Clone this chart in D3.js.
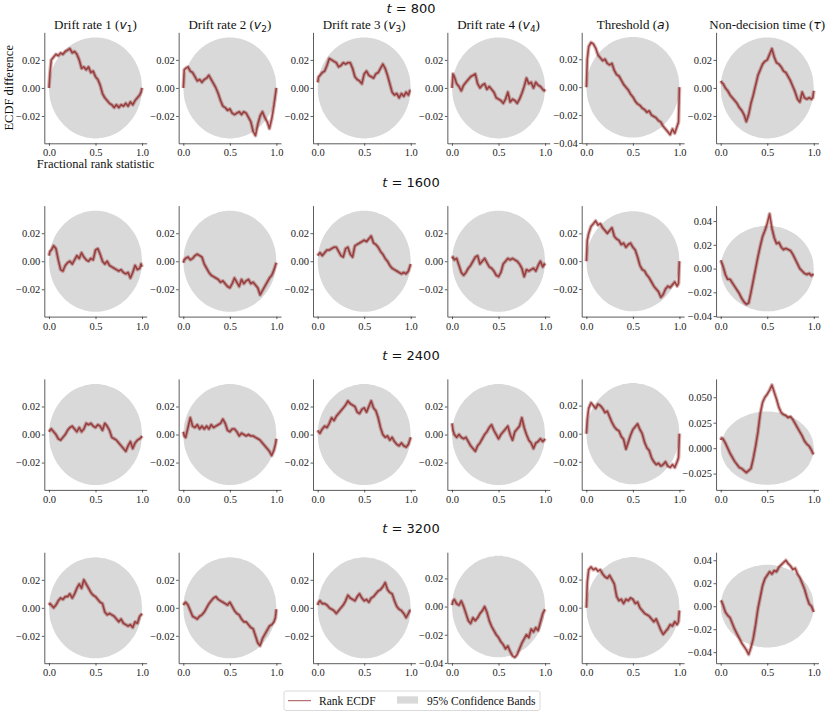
<!DOCTYPE html>
<html><head><meta charset="utf-8">
<script src="https://cdn.jsdelivr.net/npm/d3@7"></script>
<style>body{margin:0;background:#fff}svg{display:block}</style>
</head><body>
<svg id="c" width="830" height="715"></svg>
<script>
// ---------- data ----------
const paramLabels = ["Drift rate 1", "Drift rate 2", "Drift rate 3", "Drift rate 4", "Threshold", "Non-decision time"];
const paramSymbols = ["v", "v", "v", "v", "a", "τ"];
const paramSubscripts = ["1", "2", "3", "4", "", ""];
const timeSteps = [800, 1600, 2400, 3200];

const rankGrid = [0, 0.01, 0.025, 0.05, 0.075, 0.1, 0.125, 0.15, 0.175, 0.2, 0.225, 0.25, 0.275, 0.3, 0.325, 0.35, 0.375, 0.4, 0.425, 0.45, 0.475, 0.5, 0.525, 0.55, 0.575, 0.6, 0.625, 0.65, 0.675, 0.7, 0.725, 0.75, 0.775, 0.8, 0.825, 0.85, 0.875, 0.9, 0.925, 0.95, 0.975, 0.99, 1.0];

// half-width of the 95% simultaneous confidence band
const bandHalfWidth = [0, 0.0072, 0.0112, 0.0157, 0.019, 0.0216, 0.0238, 0.0257, 0.0274, 0.0288, 0.0301, 0.0312, 0.0321, 0.033, 0.0337, 0.0343, 0.0349, 0.0353, 0.0356, 0.0358, 0.036, 0.036, 0.036, 0.0358, 0.0356, 0.0353, 0.0349, 0.0343, 0.0337, 0.033, 0.0321, 0.0312, 0.0301, 0.0288, 0.0274, 0.0257, 0.0238, 0.0216, 0.019, 0.0157, 0.0112, 0.0072, 0];

const ecdf800 = [
  [0.000, 0.010, 0.020, 0.022, 0.024, 0.023, 0.025, 0.024, 0.026, 0.027, 0.028, 0.025, 0.026, 0.024, 0.020, 0.014, 0.015, 0.013, 0.015, 0.011, 0.012, 0.008, 0.006, 0.002, -0.004, -0.007, -0.009, -0.011, -0.012, -0.014, -0.012, -0.014, -0.012, -0.013, -0.011, -0.013, -0.010, -0.012, -0.009, -0.007, -0.005, -0.003, 0.000],
  [0.000, 0.013, 0.014, 0.015, 0.012, 0.011, 0.008, 0.005, 0.006, 0.004, 0.006, 0.007, 0.009, 0.006, 0.003, 0.000, -0.004, -0.009, -0.013, -0.014, -0.016, -0.015, -0.018, -0.019, -0.018, -0.017, -0.019, -0.017, -0.018, -0.021, -0.024, -0.031, -0.034, -0.026, -0.020, -0.017, -0.021, -0.024, -0.029, -0.022, -0.012, -0.005, 0.000],
  [0.004, 0.008, 0.009, 0.011, 0.012, 0.016, 0.021, 0.020, 0.019, 0.018, 0.015, 0.016, 0.018, 0.017, 0.018, 0.018, 0.014, 0.008, 0.006, 0.005, 0.003, 0.010, 0.012, 0.009, 0.008, 0.007, 0.010, 0.011, 0.014, 0.017, 0.014, 0.009, 0.003, -0.003, -0.005, -0.004, -0.007, -0.004, -0.006, -0.003, -0.005, -0.002, -0.002],
  [0.000, 0.010, 0.008, 0.003, 0.001, -0.002, 0.002, 0.004, 0.006, 0.008, 0.009, 0.010, 0.003, 0.000, 0.002, 0.003, -0.001, 0.001, -0.001, -0.003, -0.007, -0.008, -0.009, -0.011, -0.008, -0.003, -0.010, -0.008, -0.009, -0.011, -0.008, -0.004, 0.001, 0.007, 0.003, 0.004, 0.000, 0.004, 0.002, 0.001, -0.001, -0.002, -0.001],
  [0.000, 0.020, 0.029, 0.032, 0.031, 0.028, 0.023, 0.021, 0.019, 0.020, 0.017, 0.016, 0.017, 0.012, 0.009, 0.008, 0.005, 0.002, 0.000, -0.002, -0.005, -0.007, -0.010, -0.012, -0.013, -0.015, -0.016, -0.018, -0.017, -0.020, -0.021, -0.022, -0.024, -0.025, -0.028, -0.030, -0.032, -0.034, -0.030, -0.033, -0.028, -0.025, 0.000],
  [0.005, 0.004, 0.003, 0.000, -0.002, -0.005, -0.007, -0.009, -0.011, -0.014, -0.016, -0.019, -0.024, -0.019, -0.011, -0.005, 0.002, 0.009, 0.013, 0.017, 0.019, 0.020, 0.024, 0.028, 0.022, 0.018, 0.017, 0.015, 0.012, 0.011, 0.008, 0.005, 0.001, -0.003, -0.008, -0.010, -0.003, -0.007, -0.008, -0.007, -0.008, -0.007, -0.002]
];
const ecdf1600 = [
  [0.004, 0.007, 0.008, 0.011, 0.009, 0.001, -0.006, -0.007, -0.003, -0.001, 0.000, -0.002, 0.001, 0.004, 0.002, 0.006, 0.003, 0.001, 0.000, 0.002, 0.001, 0.008, 0.009, 0.005, 0.000, -0.002, 0.000, -0.003, -0.004, -0.005, -0.006, -0.007, -0.006, -0.008, -0.009, -0.008, -0.012, -0.008, -0.003, -0.006, -0.005, -0.002, -0.004],
  [-0.001, 0.001, 0.002, 0.003, 0.001, 0.002, 0.004, 0.005, 0.004, 0.003, -0.002, -0.005, -0.008, -0.010, -0.011, -0.012, -0.013, -0.015, -0.014, -0.016, -0.018, -0.019, -0.016, -0.012, -0.015, -0.018, -0.013, -0.016, -0.014, -0.013, -0.016, -0.015, -0.017, -0.019, -0.024, -0.021, -0.018, -0.015, -0.012, -0.010, -0.006, -0.003, -0.001],
  [0.004, 0.005, 0.006, 0.004, 0.006, 0.008, 0.008, 0.009, 0.010, 0.010, 0.007, 0.004, 0.003, 0.009, 0.010, 0.005, 0.003, 0.011, 0.012, 0.013, 0.014, 0.015, 0.014, 0.016, 0.018, 0.013, 0.012, 0.010, 0.007, 0.005, 0.002, 0.000, -0.003, -0.005, -0.006, -0.007, -0.008, -0.009, -0.008, -0.009, -0.007, -0.004, -0.002],
  [0.002, 0.003, 0.001, 0.002, -0.003, -0.008, -0.010, -0.008, -0.005, -0.003, 0.000, 0.003, 0.004, -0.002, 0.000, 0.002, -0.001, -0.004, -0.005, -0.007, -0.010, -0.011, -0.008, -0.002, 0.000, 0.002, 0.001, 0.002, 0.001, 0.000, -0.002, -0.005, -0.011, -0.006, -0.007, -0.006, -0.005, -0.007, -0.003, 0.000, -0.004, -0.002, -0.003],
  [0.000, 0.015, 0.020, 0.025, 0.027, 0.029, 0.026, 0.027, 0.024, 0.022, 0.020, 0.022, 0.024, 0.018, 0.016, 0.015, 0.012, 0.013, 0.010, 0.012, 0.013, 0.010, 0.008, 0.003, -0.003, -0.006, -0.007, -0.010, -0.012, -0.015, -0.018, -0.020, -0.022, -0.026, -0.024, -0.020, -0.018, -0.019, -0.017, -0.015, -0.018, -0.016, 0.000],
  [0.007, 0.005, 0.002, -0.005, -0.009, -0.009, -0.012, -0.015, -0.018, -0.021, -0.025, -0.028, -0.030, -0.029, -0.020, -0.010, 0.000, 0.010, 0.019, 0.027, 0.032, 0.038, 0.046, 0.034, 0.026, 0.021, 0.022, 0.018, 0.016, 0.017, 0.016, 0.015, 0.012, 0.008, 0.004, 0.000, -0.002, -0.004, -0.005, -0.004, -0.006, -0.005, -0.005]
];
const ecdf2400 = [
  [0.002, 0.003, 0.004, 0.002, 0.000, -0.003, -0.004, -0.002, 0.000, 0.003, 0.005, 0.006, 0.004, 0.002, 0.005, 0.002, 0.004, 0.008, 0.007, 0.008, 0.006, 0.005, 0.007, 0.006, 0.003, 0.008, 0.006, 0.003, -0.002, -0.003, -0.004, -0.006, -0.008, -0.010, -0.012, -0.008, -0.005, -0.010, -0.006, -0.004, -0.003, -0.002, -0.001],
  [0.002, -0.001, -0.002, 0.005, 0.012, 0.006, 0.005, 0.007, 0.004, 0.006, 0.004, 0.006, 0.004, 0.007, 0.005, 0.006, 0.007, 0.008, 0.011, 0.008, 0.003, 0.002, 0.004, 0.004, 0.002, -0.001, 0.001, 0.000, -0.001, 0.000, -0.001, -0.001, -0.002, -0.003, -0.004, -0.006, -0.008, -0.010, -0.012, -0.015, -0.011, -0.007, -0.003],
  [0.003, 0.002, 0.001, 0.004, 0.006, 0.005, 0.008, 0.012, 0.010, 0.013, 0.015, 0.017, 0.019, 0.021, 0.024, 0.022, 0.021, 0.020, 0.016, 0.015, 0.018, 0.019, 0.016, 0.020, 0.024, 0.019, 0.017, 0.012, 0.005, 0.000, -0.002, -0.001, -0.004, -0.002, -0.005, -0.007, -0.008, -0.006, -0.008, -0.009, -0.007, -0.004, -0.002],
  [0.008, 0.003, 0.000, -0.002, 0.000, -0.002, -0.003, -0.002, -0.005, -0.008, -0.010, -0.012, -0.008, -0.006, -0.003, 0.000, 0.002, 0.005, 0.007, 0.003, 0.000, -0.003, 0.000, 0.002, 0.004, 0.006, 0.000, -0.004, 0.002, 0.004, 0.006, 0.012, 0.005, 0.000, -0.004, -0.006, -0.010, -0.006, -0.005, -0.003, -0.005, -0.004, -0.003],
  [0.000, 0.010, 0.018, 0.022, 0.020, 0.018, 0.021, 0.020, 0.018, 0.015, 0.016, 0.012, 0.008, 0.005, 0.003, 0.002, -0.002, -0.004, -0.011, -0.006, -0.001, 0.003, 0.005, 0.007, 0.003, 0.000, -0.006, -0.010, -0.012, -0.017, -0.020, -0.022, -0.021, -0.023, -0.022, -0.020, -0.023, -0.024, -0.022, -0.024, -0.020, -0.017, 0.000],
  [0.008, 0.010, 0.009, 0.005, 0.000, -0.005, -0.009, -0.013, -0.016, -0.019, -0.020, -0.022, -0.024, -0.022, -0.020, -0.010, 0.002, 0.016, 0.034, 0.045, 0.050, 0.053, 0.057, 0.062, 0.055, 0.048, 0.040, 0.035, 0.033, 0.032, 0.030, 0.031, 0.028, 0.024, 0.020, 0.016, 0.012, 0.007, 0.004, 0.002, -0.002, -0.005, -0.006]
];
const ecdf3200 = [
  [0.002, 0.003, 0.002, 0.000, 0.002, 0.005, 0.007, 0.006, 0.008, 0.008, 0.010, 0.007, 0.010, 0.014, 0.017, 0.014, 0.020, 0.017, 0.014, 0.011, 0.009, 0.008, 0.006, 0.004, 0.003, -0.003, -0.005, -0.004, -0.005, -0.006, -0.008, -0.010, -0.008, -0.011, -0.012, -0.013, -0.012, -0.014, -0.010, -0.011, -0.006, -0.005, -0.004],
  [0.002, 0.003, 0.004, 0.002, -0.002, -0.006, -0.007, -0.008, -0.006, -0.005, -0.003, 0.000, 0.003, 0.005, 0.007, 0.008, 0.006, 0.005, 0.004, 0.003, 0.002, 0.004, 0.001, -0.002, -0.004, -0.005, -0.008, -0.010, -0.010, -0.012, -0.014, -0.015, -0.020, -0.025, -0.027, -0.022, -0.019, -0.016, -0.013, -0.012, -0.010, -0.007, -0.001],
  [0.002, 0.004, 0.005, 0.003, 0.003, 0.002, 0.000, -0.001, -0.002, -0.004, -0.002, 0.000, 0.002, 0.005, 0.009, 0.007, 0.006, 0.005, 0.008, 0.010, 0.007, 0.005, 0.006, 0.004, 0.007, 0.008, 0.010, 0.012, 0.013, 0.015, 0.018, 0.013, 0.011, 0.010, 0.005, 0.001, -0.001, -0.002, -0.004, -0.007, -0.004, -0.002, -0.002],
  [0.001, 0.004, 0.005, 0.002, 0.001, 0.004, 0.000, -0.005, -0.010, -0.012, -0.008, -0.010, -0.008, -0.005, -0.003, 0.000, -0.004, -0.010, -0.014, -0.017, -0.020, -0.022, -0.025, -0.027, -0.030, -0.028, -0.032, -0.035, -0.036, -0.034, -0.030, -0.026, -0.023, -0.020, -0.022, -0.016, -0.018, -0.015, -0.017, -0.011, -0.005, -0.003, -0.002],
  [0.000, 0.018, 0.027, 0.029, 0.027, 0.028, 0.026, 0.027, 0.024, 0.022, 0.021, 0.023, 0.020, 0.017, 0.008, 0.005, 0.006, 0.003, 0.006, 0.005, 0.007, 0.006, 0.003, 0.004, 0.000, -0.002, -0.004, -0.005, -0.006, -0.008, -0.010, -0.008, -0.012, -0.016, -0.019, -0.017, -0.015, -0.012, -0.013, -0.010, -0.012, -0.010, -0.002],
  [0.005, 0.004, 0.001, -0.005, -0.008, -0.010, -0.015, -0.020, -0.024, -0.028, -0.032, -0.035, -0.038, -0.042, -0.036, -0.028, -0.016, -0.002, 0.008, 0.018, 0.024, 0.027, 0.030, 0.028, 0.031, 0.030, 0.034, 0.036, 0.038, 0.040, 0.037, 0.035, 0.032, 0.033, 0.028, 0.025, 0.020, 0.015, 0.008, 0.002, 0.000, -0.003, -0.005]
];

const yLim800  = [[-0.0395, 0.0397], [-0.0395, 0.0397], [-0.0395, 0.0397], [-0.0395, 0.0397], [-0.0402, 0.0393], [-0.0395, 0.0397]];
const yLim1600 = [[-0.0395, 0.0397], [-0.0395, 0.0397], [-0.0395, 0.0397], [-0.0395, 0.0397], [-0.0399, 0.0400], [-0.0404, 0.0530]];
const yLim2400 = [[-0.0395, 0.0397], [-0.0395, 0.0397], [-0.0395, 0.0397], [-0.0395, 0.0397], [-0.0400, 0.0390], [-0.0410, 0.0680]];
const yLim3200 = [[-0.0395, 0.0397], [-0.0395, 0.0397], [-0.0395, 0.0397], [-0.0402, 0.0386], [-0.0395, 0.0395], [-0.0496, 0.0470]];
const ticksStd = [-0.02, 0, 0.02];
const ticksLow = [-0.04, -0.02, 0, 0.02];
const ticksWide = [-0.04, -0.02, 0, 0.02, 0.04];
const ticksQuarter = [-0.025, 0, 0.025, 0.05];
const yTicks800  = [ticksStd, ticksStd, ticksStd, ticksStd, ticksLow, ticksStd];
const yTicks1600 = [ticksStd, ticksStd, ticksStd, ticksStd, ticksStd, ticksWide];
const yTicks2400 = [ticksStd, ticksStd, ticksStd, ticksStd, ticksStd, ticksQuarter];
const yTicks3200 = [ticksStd, ticksStd, ticksStd, ticksLow, ticksStd, ticksWide];
const xTicks = [0, 0.5, 1];
const legendLabels = ["Rank ECDF", "95% Confidence Bands"];

// ---------- drawing ----------
const svg = d3.select("#c");
const serif = "'Liberation Serif', 'Times New Roman', serif";
const mathFont = "'DejaVu Sans', sans-serif";
const lineColor = "#8f2727";
const bandColor = "#d9d9d9";
const X0 = 44.3, DX = 134.35, AW = 102.4, Y0 = 32.3, DY = 173.3, AH = 111;

const rows = [ecdf800, ecdf1600, ecdf2400, ecdf3200];
const lims = [yLim800, yLim1600, yLim2400, yLim3200];
const ticks = [yTicks800, yTicks1600, yTicks2400, yTicks3200];

const x = d3.scaleLinear().domain([-0.05, 1.05]).range([0, AW]);

function styleAxis(g) {
  g.select(".domain").attr("stroke", "#333").attr("stroke-width", 0.8);
  g.selectAll(".tick line").attr("stroke", "#333").attr("stroke-width", 0.8);
  g.selectAll(".tick text").attr("fill", "#222").attr("font-family", serif).attr("font-size", 10.5);
}

rows.forEach((rowData, r) => {
  const top = Y0 + r * DY;
  const rt = svg.append("text")
    .attr("x", 411).attr("y", top - 19)
    .attr("text-anchor", "middle")
    .attr("font-family", mathFont).attr("font-size", 13).attr("fill", "#111");
  rt.append("tspan").attr("font-style", "italic").text("t");
  rt.append("tspan").text(" = " + timeSteps[r]);

  rowData.forEach((vals, c) => {
    const g = svg.append("g").attr("transform", `translate(${X0 + c * DX},${top})`);
    const y = d3.scaleLinear().domain(lims[r][c]).range([AH, 0]);
    const band = d3.zip(rankGrid, bandHalfWidth);
    const pts = d3.zip(rankGrid, vals);

    g.append("path")
      .attr("d", d3.area().curve(d3.curveCatmullRom)
        .x(d => x(d[0])).y0(d => y(-d[1])).y1(d => y(d[1]))(band))
      .attr("fill", bandColor);

    const line = d3.line().x(d => x(d[0])).y(d => y(d[1]));
    g.append("path").attr("d", line(pts)).attr("fill", "none")
      .attr("stroke", lineColor).attr("stroke-opacity", 0.35).attr("stroke-width", 3.8)
      .attr("stroke-linejoin", "round");
    g.append("path").attr("d", line(pts)).attr("fill", "none")
      .attr("stroke", lineColor).attr("stroke-opacity", 0.8).attr("stroke-width", 1.6)
      .attr("stroke-linejoin", "round");

    const fmt = ticks[r][c] === ticksQuarter ? d3.format(".3f") : d3.format(".2f");
    g.append("g").call(d3.axisLeft(y).tickValues(ticks[r][c]).tickFormat(fmt)
      .tickSize(2.5).tickPadding(1.5).tickSizeOuter(0)).call(styleAxis);
    g.append("g").attr("transform", `translate(0,${AH})`)
      .call(d3.axisBottom(x).tickValues(xTicks).tickFormat(d3.format(".1f"))
        .tickSize(2.5).tickPadding(3).tickSizeOuter(0)).call(styleAxis);

    if (r === 0) {
      const t = g.append("text").attr("x", AW / 2).attr("y", -3.6)
        .attr("text-anchor", "middle").attr("font-family", serif)
        .attr("font-size", 13).attr("fill", "#111");
      t.append("tspan").text(paramLabels[c] + " (");
      t.append("tspan").attr("font-family", mathFont).attr("font-style", "italic")
        .attr("font-size", 12.5).text(paramSymbols[c]);
      if (paramSubscripts[c]) {
        t.append("tspan").attr("font-family", mathFont).attr("font-size", 9)
          .attr("dy", 3).text(paramSubscripts[c]);
        t.append("tspan").attr("dy", -3).text(")");
      } else {
        t.append("tspan").text(")");
      }
    }
    if (r === 0 && c === 0) {
      g.append("text").attr("x", AW / 2).attr("y", 168 - top)
        .attr("text-anchor", "middle").attr("font-family", serif)
        .attr("font-size", 12.5).attr("fill", "#111").text("Fractional rank statistic");
      g.append("text").attr("transform", `translate(${13 - X0},${AH / 2}) rotate(-90)`)
        .attr("text-anchor", "middle").attr("font-family", serif)
        .attr("font-size", 12.5).attr("fill", "#111").text("ECDF difference");
    }
  });
});

// legend
const lg = svg.append("g");
lg.append("rect").attr("x", 284).attr("y", 691).attr("width", 256).attr("height", 19.5)
  .attr("rx", 2).attr("fill", "#fff").attr("stroke", "#d0d0d0").attr("stroke-width", 0.8);
lg.append("line").attr("x1", 288).attr("x2", 311).attr("y1", 700.7).attr("y2", 700.7)
  .attr("stroke", lineColor).attr("stroke-opacity", 0.8).attr("stroke-width", 1);
lg.append("text").attr("x", 319).attr("y", 704.8).attr("font-family", serif)
  .attr("font-size", 11.5).attr("fill", "#111").text(legendLabels[0]);
lg.append("rect").attr("x", 397).attr("y", 696.3).attr("width", 21).attr("height", 7.3)
  .attr("fill", bandColor);
lg.append("text").attr("x", 427).attr("y", 704.8).attr("font-family", serif)
  .attr("font-size", 11.5).attr("fill", "#111").text(legendLabels[1]);
</script>
</body></html>
